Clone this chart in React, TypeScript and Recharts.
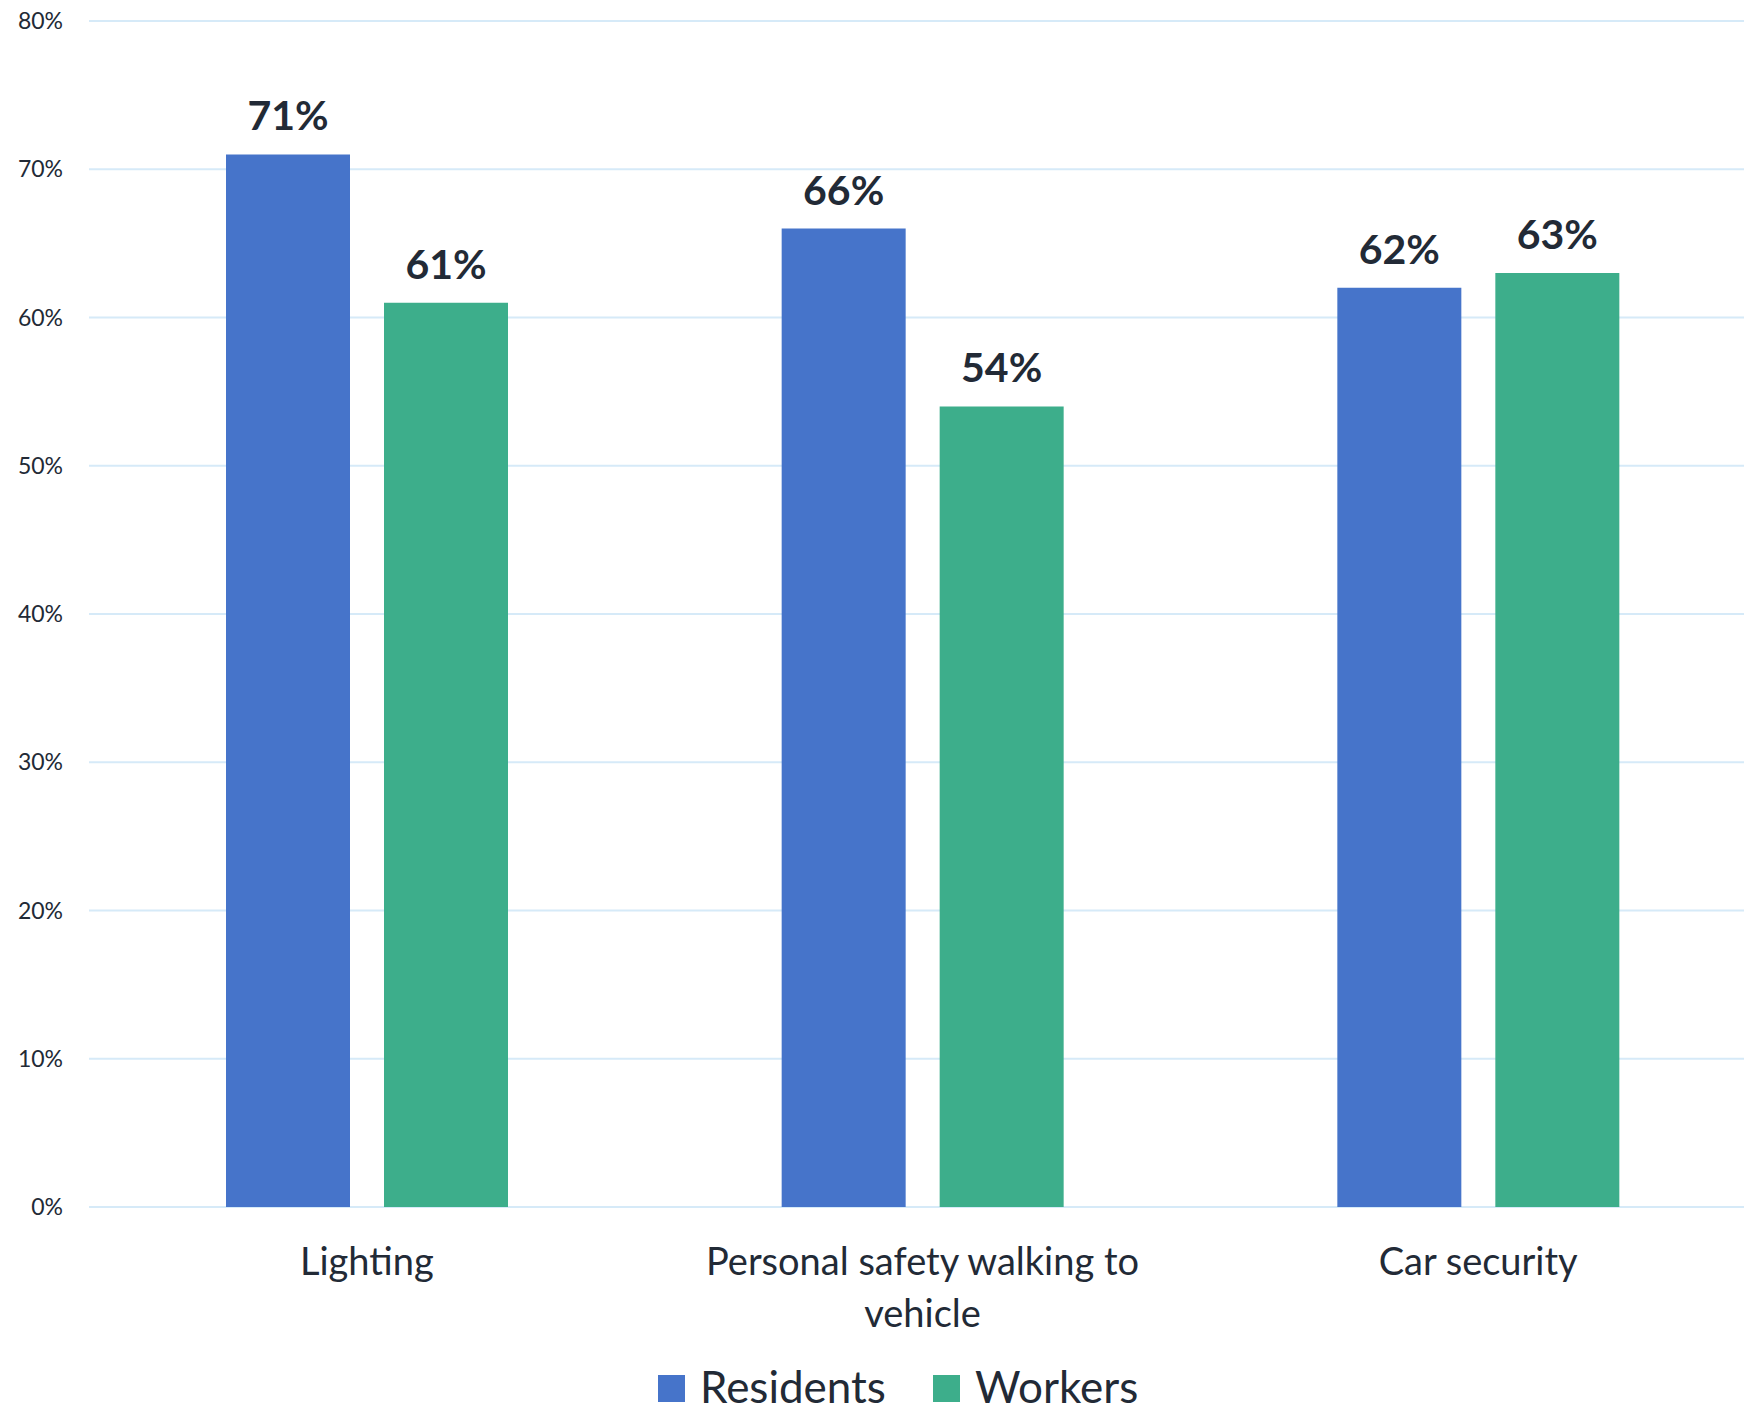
import { BarChart, Bar, XAxis, YAxis, CartesianGrid, LabelList } from "recharts";

const categories = ["Lighting", "Personal safety walking to vehicle", "Car security"];
const residents = [71, 66, 62];
const workers = [61, 54, 63];
const yTicks = [0, 10, 20, 30, 40, 50, 60, 70, 80];

const series = [
  { key: "residents", name: "Residents", color: "#4674CA" },
  { key: "workers", name: "Workers", color: "#3DAE8B" },
];

const chartData = categories.map((name, i) => ({
  name,
  residents: residents[i],
  workers: workers[i],
}));

const FONT = "Lato, 'Noto Sans', sans-serif";
const INK = "#222a36";
const TICK_SIZE = 38;
const TICK_WRAP = 460;

let measureCtx: CanvasRenderingContext2D | null = null;

// greedy word wrap, measured with the tick font
function wrapLabel(text: string, maxWidth: number): string[] {
  if (!measureCtx) measureCtx = document.createElement("canvas").getContext("2d");
  const ctx = measureCtx!;
  ctx.font = `${TICK_SIZE}px ${FONT}`;
  const lines: string[] = [];
  let line = "";
  for (const word of text.split(" ")) {
    const next = line ? `${line} ${word}` : word;
    if (line && ctx.measureText(next).width > maxWidth) {
      lines.push(line);
      line = word;
    } else {
      line = next;
    }
  }
  if (line) lines.push(line);
  return lines;
}

function CategoryTick({ x, y, payload }: any) {
  const lines = wrapLabel(String(payload.value), TICK_WRAP);
  return (
    <text
      x={x}
      y={y + 68}
      textAnchor="middle"
      fill={INK}
      style={{ fontSize: TICK_SIZE, fontFamily: FONT }}
    >
      {lines.map((l, i) => (
        <tspan key={i} x={x} dy={i === 0 ? 0 : 52}>
          {l}
        </tspan>
      ))}
    </text>
  );
}

export default function App() {
  return (
    <div
      style={{
        position: "fixed",
        left: 0,
        top: 0,
        width: 1744,
        height: 1412,
        overflow: "hidden",
        background: "#fff",
        fontFamily: FONT,
      }}
    >
      <BarChart
        width={1760}
        height={1412}
        data={chartData}
        margin={{ top: 21, right: 4, bottom: 0, left: 0 }}
        barSize={124}
        barGap={34}
      >
        <CartesianGrid horizontal vertical={false} stroke="#D6EAF8" strokeWidth={2} />
        <XAxis
          dataKey="name"
          axisLine={false}
          tickLine={false}
          tickSize={0}
          tickMargin={0}
          height={205}
          interval={0}
          tick={<CategoryTick />}
        />
        <YAxis
          domain={[0, 80]}
          ticks={yTicks}
          width={89}
          axisLine={false}
          tickLine={false}
          tickSize={0}
          tickMargin={26}
          tickFormatter={(v) => `${v}%`}
          tick={{ fontSize: 23, fontFamily: FONT, fill: INK }}
        />
        {series.map((s) => (
          <Bar key={s.key} dataKey={s.key} name={s.name} fill={s.color} isAnimationActive={false}>
            <LabelList
              dataKey={s.key}
              position="top"
              offset={24}
              formatter={(v: any) => `${v}%`}
              style={{ fontSize: 41, fontWeight: 700, fontFamily: FONT, fill: INK }}
            />
          </Bar>
        ))}
      </BarChart>
      {/* legend row under the category labels */}
      <div
        style={{
          position: "absolute",
          left: 658,
          top: 1366,
          display: "flex",
          alignItems: "center",
          fontSize: 44,
          lineHeight: "40px",
          color: INK,
        }}
      >
        {series.map((s, i) => (
          <div key={s.key} style={{ display: "flex", alignItems: "center", marginLeft: i ? 47 : 0 }}>
            <div style={{ width: 27, height: 27, background: s.color, marginRight: 15, marginTop: 4 }} />
            <span>{s.name}</span>
          </div>
        ))}
      </div>
    </div>
  );
}
